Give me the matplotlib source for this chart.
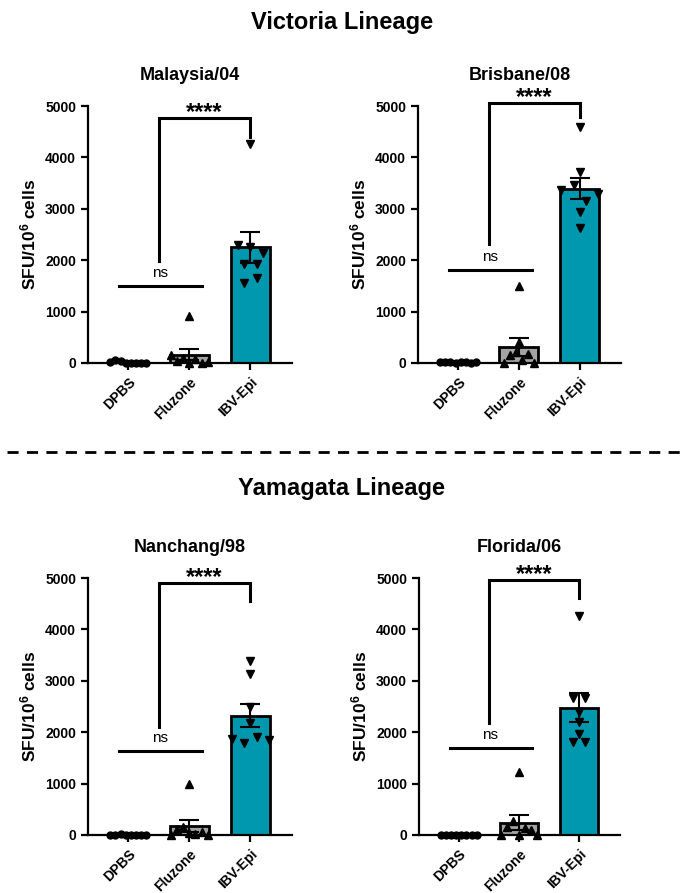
import numpy as np
import matplotlib
matplotlib.use("Agg")
import matplotlib.pyplot as plt

plt.rcParams["font.family"] = ["Liberation Sans", "DejaVu Sans"]
plt.rcParams["mathtext.fontset"] = "custom"
plt.rcParams["mathtext.rm"] = "Liberation Sans"
plt.rcParams["mathtext.bf"] = "Liberation Sans:bold"
plt.rcParams["mathtext.default"] = "bf"

# ---------- data (SFU / 10^6 cells) ----------
groups = ["DPBS", "Fluzone", "IBV-Epi"]
strains = ["Malaysia/04", "Brisbane/08", "Nanchang/98", "Florida/06"]

malaysia_dpbs = [10, 60, 30, 5, 5, 5, 5, 5]
malaysia_fluzone = [907, 150, 40, 100, 0, 80, 0, 20]
malaysia_ibv = [4262, 2300, 2250, 2137, 1924, 1924, 1555, 1650]

brisbane_dpbs = [15, 10, 20, 5, 10, 25, 5, 10]
brisbane_fluzone = [1503, 0, 160, 400, 220, 50, 180, 0]
brisbane_ibv = [4590, 3720, 3360, 3470, 3150, 3280, 2940, 2620]

nanchang_dpbs = [0, 5, 10, 0, 5, 0, 5, 0]
nanchang_fluzone = [988, 0, 120, 150, 30, 20, 50, 0]
nanchang_ibv = [3394, 3134, 2497, 2185, 1860, 1782, 1899, 1847]

florida_dpbs = [0, 5, 0, 5, 0, 5, 0, 5]
florida_fluzone = [1229, 0, 150, 280, 0, 130, 100, 0]
florida_ibv = [4265, 2659, 2659, 2399, 2204, 1964, 1814, 1814]

# significance annotations: bracket top, leg ends, ns line height
bracket_top = [4760, 5065, 4902, 4967]
bracket_left_end = [1975, 2320, 2107, 2185]
bracket_right_end = [4400, 4784, 4545, 4610]
ns_level = [1490, 1810, 1625, 1697]

all_data = [
    [malaysia_dpbs, malaysia_fluzone, malaysia_ibv],
    [brisbane_dpbs, brisbane_fluzone, brisbane_ibv],
    [nanchang_dpbs, nanchang_fluzone, nanchang_ibv],
    [florida_dpbs, florida_fluzone, florida_ibv],
]

# ---------- style ----------
bar_colors = ["white", "#a3a3a3", "#0098ae"]
markers = ["o", "^", "v"]
marker_sizes = [5, 6, 6]
swarm_step = [0.085, 0.1, 0.2]
swarm_thresh = [170, 170, 140]
W, H = 684, 893

fig = plt.figure(figsize=(W / 100, H / 100), dpi=100)

# axes boxes in pixels: (left, top, right, bottom)
boxes = [(88, 106, 292, 363), (418, 106, 621, 363),
         (88, 578, 292, 835), (419, 578, 620, 835)]


def swarm_offsets(vals, thresh, step):
    # put points at about the same height side by side (listing order)
    vals = np.asarray(vals, float)
    order = np.argsort(vals, kind="stable")
    offs = np.zeros(len(vals))
    clusters = [[order[0]]]
    for i in order[1:]:
        if vals[i] - vals[clusters[-1][-1]] < thresh:
            clusters[-1].append(i)
        else:
            clusters.append([i])
    for c in clusters:
        c = sorted(c)
        n = len(c)
        for k, idx in enumerate(c):
            offs[idx] = (k - (n - 1) / 2) * step
    return offs


for p, (l, t, r, b) in enumerate(boxes):
    ax = fig.add_axes([l / W, 1 - b / H, (r - l) / W, (b - t) / H])
    x = np.arange(len(groups))
    data = all_data[p]
    means = [np.mean(d) for d in data]
    sems = [np.std(d, ddof=1) / np.sqrt(len(d)) for d in data]

    ax.bar(x, means, width=0.64, color=bar_colors, edgecolor="black",
           linewidth=2, zorder=2)
    for i, d in enumerate(data):
        offs = swarm_offsets(d, swarm_thresh[i], swarm_step[i])
        ax.plot(x[i] + offs, d, linestyle="none", marker=markers[i],
                markersize=marker_sizes[i], color="black", zorder=3,
                clip_on=False)
    ax.errorbar(x, means, yerr=sems, fmt="none", ecolor="black",
                elinewidth=1.5, capsize=7, capthick=1.5, zorder=4)

    ax.set_xlim(-0.66, 2.68)
    ax.set_ylim(0, 5000)
    ax.set_yticks([0, 1000, 2000, 3000, 4000, 5000])
    ax.set_xticks(x)
    ax.set_xticklabels(groups, rotation=45, ha="right", rotation_mode="anchor",
                       fontsize=10, fontweight="bold")
    for lab in ax.get_yticklabels():
        lab.set_fontweight("bold")
        lab.set_fontsize(10)
    ax.spines["top"].set_visible(False)
    ax.spines["right"].set_visible(False)
    ax.spines["left"].set_linewidth(1.6)
    ax.spines["bottom"].set_linewidth(1.6)
    ax.tick_params(width=1.6, length=5, direction="out")
    ax.set_ylabel("SFU/10$^{6}$ cells", fontsize=12.5, fontweight="bold",
                  labelpad=5)
    ax.text(0.5, 1 + 31 / (b - t), strains[p], transform=ax.transAxes,
            ha="center", va="center", fontsize=13, fontweight="bold")

    # significance bracket
    ax.plot([0.5, 0.5, 2, 2],
            [bracket_left_end[p], bracket_top[p], bracket_top[p], bracket_right_end[p]],
            color="black", lw=2.2, clip_on=False, solid_joinstyle="miter")
    ax.text(1.25, bracket_top[p] - 20, "****", ha="center", va="baseline",
            fontsize=17, fontweight="bold", clip_on=False)
    ax.plot([-0.15, 1.21], [ns_level[p], ns_level[p]], color="black", lw=2.2)
    ax.text(0.52, ns_level[p] + 120, "ns", ha="center", va="bottom", fontsize=11)

fig.text(0.5, 1 - 23 / H, "Victoria Lineage", ha="center", va="center",
         fontsize=17, fontweight="bold")
fig.text(0.5, 1 - 489 / H, "Yamagata Lineage", ha="center", va="center",
         fontsize=17, fontweight="bold")
fig.add_artist(plt.Line2D([7 / W, 1], [1 - 452 / H] * 2, color="black", lw=2,
                          linestyle=(0, (4, 3)), transform=fig.transFigure))

fig.savefig("out.png", dpi=100)
